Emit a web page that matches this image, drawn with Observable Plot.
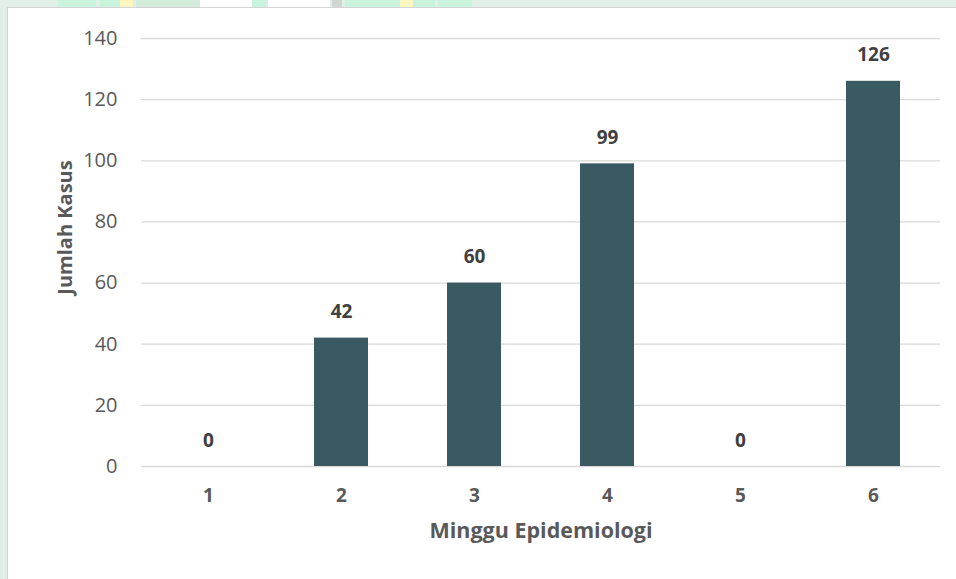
<!DOCTYPE html>
<html>
<head>
<meta charset="utf-8">
<script src="https://cdn.jsdelivr.net/npm/d3@7"></script>
<script src="https://cdn.jsdelivr.net/npm/@observablehq/plot@0.6"></script>
<style>
  html, body { margin: 0; padding: 0; }
  body { width: 956px; height: 579px; background: #e2efe9; position: relative; overflow: hidden; font-family: "Open Sans", sans-serif; }
  .strip { position: absolute; top: 0; height: 8px; }
  #card { position: absolute; left: 7px; top: 7px; width: 949px; height: 572px; background: #fff; border-left: 1px solid #d4d4d4; border-top: 1px solid #d4d4d4; box-sizing: border-box; }
  #chart { position: absolute; left: 0; top: 0; }
  #chart text.xtitle { letter-spacing: 0.6px; }
</style>
</head>
<body>
<div class="strip" style="left:58px;width:38px;background:#c9f3dc"></div>
<div class="strip" style="left:100px;width:20px;background:#c9f3dc"></div>
<div class="strip" style="left:120px;width:13px;background:#fbf5c0"></div>
<div class="strip" style="left:136px;width:64px;background:#d3ecdc"></div>
<div class="strip" style="left:200px;width:52px;background:#ffffff"></div>
<div class="strip" style="left:252px;width:14px;background:#c9f3dc"></div>
<div class="strip" style="left:268px;width:62px;background:#ffffff"></div>
<div class="strip" style="left:332px;width:10px;background:#cfd6d2"></div>
<div class="strip" style="left:345px;width:55px;background:#c9f3dc"></div>
<div class="strip" style="left:400px;width:13px;background:#fbf5c0"></div>
<div class="strip" style="left:413px;width:22px;background:#c9f3dc"></div>
<div class="strip" style="left:438px;width:34px;background:#c9f3dc"></div>
<div id="card"><div id="chart"></div></div>
<script>
const weeks = ["1", "2", "3", "4", "5", "6"];
const cases = [0, 42, 60, 99, 0, 126];
const yTicks = [0, 20, 40, 60, 80, 100, 120, 140];
const xTitle = "Minggu Epidemiologi";
const yTitle = "Jumlah Kasus";

const data = weeks.map((w, i) => ({week: w, cases: cases[i]}));

const chart = Plot.plot({
  width: 948,
  height: 571,
  marginLeft: 133,
  marginRight: 16,
  marginTop: 30,
  marginBottom: 113,
  style: {fontFamily: "'Open Sans', sans-serif", background: "transparent"},
  x: {domain: weeks, paddingInner: 0.595, paddingOuter: 0.2975, label: null},
  y: {domain: [0, 140], label: null},
  marks: [
    Plot.gridY(yTicks, {stroke: "#d9d9d9", strokeOpacity: 1, strokeWidth: 1.3}),
    Plot.axisY(yTicks, {tickSize: 0, tickPadding: 24, fontSize: 20, fill: "#595959", tickFormat: d => String(d)}),
    Plot.axisX({tickSize: 0, tickPadding: 22, fontSize: 19, fontWeight: "bold", fill: "#595959", label: null}),
    Plot.barY(data, {x: "week", y: "cases", fill: "#3a5a63"}),
    Plot.text(data, {x: "week", y: "cases", text: d => String(d.cases), dy: -26, fontSize: 19, fontWeight: "bold", fill: "#404040"}),
    Plot.text([xTitle], {frameAnchor: "bottom", dy: 71, fontSize: 21.5, fontWeight: "bold", fill: "#595959", className: "xtitle"}),
    Plot.text([yTitle], {frameAnchor: "left", textAnchor: "middle", dx: -76, dy: -25, rotate: -90, fontSize: 20, fontWeight: "bold", fill: "#595959"})
  ]
});
document.getElementById("chart").appendChild(chart);
</script>
</body>
</html>
